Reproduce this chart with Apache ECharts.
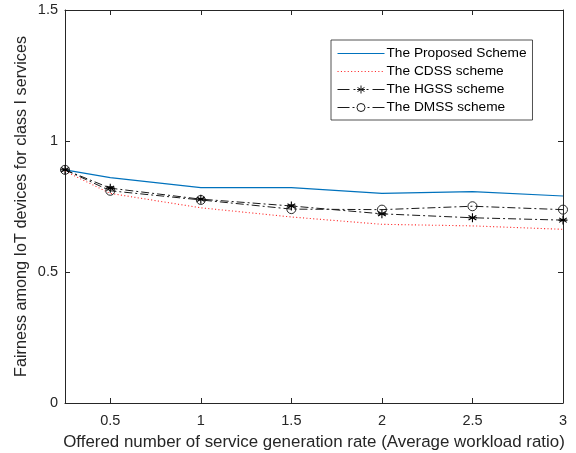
<!DOCTYPE html>
<html>
<head>
<meta charset="utf-8">
<script src="https://cdn.jsdelivr.net/npm/echarts@6/dist/echarts.min.js"></script>
<style>html,body{margin:0;padding:0;background:#fff}#c{width:576px;height:453px}</style>
</head>
<body>
<div id="c"></div>
<script>
const xValues = [0.25, 0.5, 1, 1.5, 2, 2.5, 3];
const proposed = [0.89, 0.86, 0.822, 0.822, 0.80, 0.807, 0.79];
const cdss = [0.885, 0.80, 0.745, 0.71, 0.682, 0.676, 0.663];
const hgss = [0.89, 0.82, 0.778, 0.752, 0.722, 0.707, 0.698];
const dmss = [0.89, 0.81, 0.775, 0.74, 0.738, 0.751, 0.738];
const xTicks = [0.5, 1, 1.5, 2, 2.5, 3];
const yTicks = [0, 0.5, 1, 1.5];
const seriesNames = ['The Proposed Scheme', 'The CDSS scheme', 'The HGSS scheme', 'The DMSS scheme'];
const xName = 'Offered number of service generation rate (Average workload ratio)';
const yName = 'Fairness among IoT devices for class I services';

const pair = arr => xValues.map((x, i) => [x, arr[i]]);
const FONT = 'Liberation Sans, Arial, sans-serif';
const AX = '#262626';
const BLUE = '#0072BD';
const RED = '#FF2A2A';
const DASHDOT = '#1a1a1a';
const star = 'path://M0,-4.5L0,4.5M-3.9,-2.25L3.9,2.25M-3.9,2.25L3.9,-2.25M-4.5,0L4.5,0';

// legend icon glyphs (47 x 12 box)
const BOX = 'M0,0M47,12';
const iconSolid = 'path://' + BOX + 'M0,6L47,6';
const iconStar = 'path://' + BOX + 'M0,6L12,6M16,6L18,6M29,6L31,6M35,6L47,6' +
  'M23.5,2L23.5,10M20.04,4L26.96,8M20.04,8L26.96,4M19.5,6L27.5,6';
const iconCircle = 'path://' + BOX + 'M0,6L12,6M15,6L17,6M30,6L32,6M35,6L47,6' +
  'M27.5,6A4,4 0 1 1 19.5,6A4,4 0 1 1 27.5,6';

const chart = echarts.init(document.getElementById('c'), null, {renderer: 'canvas'});
const tickStyle = {show: true, inside: true, length: 5, lineStyle: {color: AX}};
const axBase = {
  type: 'value',
  axisLine: {show: true, onZero: false, lineStyle: {color: AX, width: 1}},
  splitLine: {show: false},
};
chart.setOption({
  animation: false,
  textStyle: {fontFamily: FONT},
  grid: {left: 65, right: 13, top: 10, bottom: 50, containLabel: false, outerBoundsMode: 'none'},
  legend: {
    left: 331, top: 40,
    orient: 'vertical',
    backgroundColor: '#fff',
    borderColor: AX, borderWidth: 0.8,
    padding: [5, 6, 4, 4],
    itemGap: 1,
    itemWidth: 47, itemHeight: 12,
    symbolKeepAspect: true,
    textStyle: {fontFamily: FONT, fontSize: 13.7, lineHeight: 14, color: '#000', padding: [0, 0, 0, -3]},
    data: [
      {name: seriesNames[0], icon: iconSolid, itemStyle: {color: 'none', borderColor: BLUE, borderWidth: 1.2, borderType: 'solid'}},
      {name: seriesNames[1], icon: iconSolid, itemStyle: {color: 'none', borderColor: RED, borderWidth: 1.1, borderType: [1.1, 2.3]}},
      {name: seriesNames[2], icon: iconStar, itemStyle: {color: 'none', borderColor: DASHDOT, borderWidth: 1, borderType: 'solid'}},
      {name: seriesNames[3], icon: iconCircle, itemStyle: {color: 'none', borderColor: DASHDOT, borderWidth: 1, borderType: 'solid'}}
    ]
  },
  xAxis: [
    Object.assign({}, axBase, {
      min: 0.25, max: 3, position: 'bottom',
      name: xName, nameLocation: 'middle', nameGap: 31,
      nameTextStyle: {fontFamily: FONT, fontSize: 16.9, color: AX},
      axisTick: Object.assign({customValues: xTicks}, tickStyle),
      axisLabel: {color: AX, fontSize: 14.5, fontFamily: FONT, margin: 10, customValues: xTicks}
    }),
    Object.assign({}, axBase, {
      min: 0.25, max: 3, position: 'top',
      axisTick: Object.assign({customValues: xTicks}, tickStyle),
      axisLabel: {show: false, customValues: xTicks}
    })
  ],
  yAxis: [
    Object.assign({}, axBase, {
      min: 0, max: 1.5, interval: 0.5, position: 'left',
      name: yName, nameLocation: 'middle', nameGap: 35, nameMoveOverlap: false,
      nameTextStyle: {fontFamily: FONT, fontSize: 16.2, color: AX},
      axisTick: tickStyle,
      axisLabel: {color: AX, fontSize: 14.5, fontFamily: FONT, margin: 7,
        formatter: v => yTicks.includes(v) ? String(v) : ''}
    }),
    Object.assign({}, axBase, {
      min: 0, max: 1.5, interval: 0.5, position: 'right',
      axisTick: tickStyle,
      axisLabel: {show: false}
    })
  ],
  series: [
    {name: seriesNames[0], type: 'line', data: pair(proposed), symbol: 'none',
     lineStyle: {color: BLUE, width: 1.2}, itemStyle: {color: BLUE}},
    {name: seriesNames[1], type: 'line', data: pair(cdss), symbol: 'none',
     lineStyle: {color: RED, width: 1.1, type: [1.1, 2.3]}, itemStyle: {color: RED}},
    {name: seriesNames[2], type: 'line', data: pair(hgss), symbol: star, symbolSize: 9,
     lineStyle: {color: DASHDOT, width: 1, type: [8, 3, 2, 3]},
     itemStyle: {color: 'none', borderColor: '#000', borderWidth: 1.1}},
    {name: seriesNames[3], type: 'line', data: pair(dmss), symbol: 'circle', symbolSize: 9,
     lineStyle: {color: DASHDOT, width: 1, type: [8, 3, 2, 3]},
     itemStyle: {color: 'none', borderColor: '#111', borderWidth: 0.9}}
  ]
});
</script>
</body>
</html>
